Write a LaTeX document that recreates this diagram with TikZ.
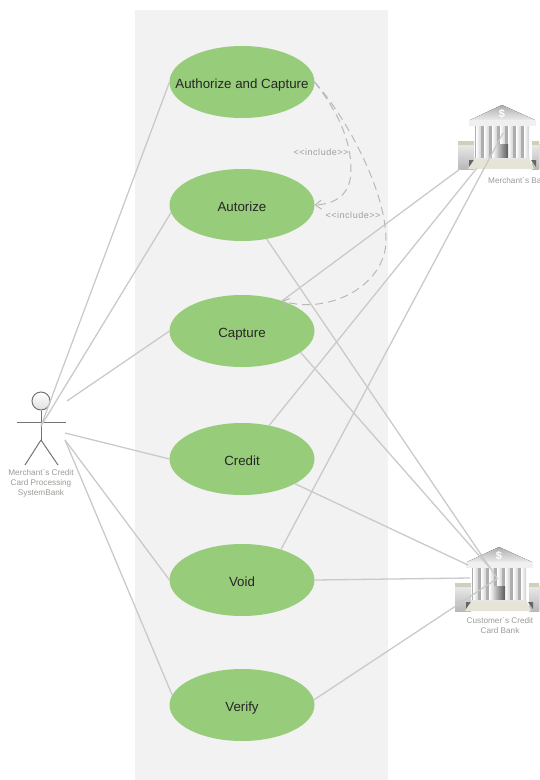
\documentclass[tikz,border=0pt]{standalone}
\usepackage{fontspec}
\setmainfont{Liberation Sans}
\newfontface\includefont[LetterSpace=6]{Liberation Sans}
\usepackage{tikz}
\usetikzlibrary{arrows.meta,shapes.geometric,positioning}
\definecolor{usecasegreen}{HTML}{97CC7A}
\definecolor{panelgray}{HTML}{F2F2F2}
\definecolor{linkgray}{HTML}{CACACA}
\definecolor{labelgray}{HTML}{9A9A96}
\definecolor{bankcream}{HTML}{E6E4D6}
\definecolor{bankcap}{HTML}{D2CEBC}
\tikzset{
    usecase/.style={ellipse,fill=usecasegreen,minimum width=145pt,minimum height=72pt,inner xsep=-25pt,inner ysep=0pt,outer sep=0pt,font=\fontsize{13.3}{15}\selectfont,text=black!85,text height=13pt,text depth=0pt},
    link/.style={draw=linkgray,line width=1.3pt},
    includelink/.style={draw=black!28,line width=1pt,dash pattern=on 8pt off 5pt,-{Straight Barb[length=6pt,width=9pt]}},
    includetext/.style={text=black!38,font=\includefont\fontsize{9}{10}\selectfont,inner sep=0pt},
    actortext/.style={text=labelgray,font=\fontsize{8.2}{10}\selectfont,align=center,inner sep=0pt},
    actorline/.style={draw=black!55,line width=1pt},
    bank/.pic={
        \fill[top color=black!8,bottom color=black!28] (-44,39) rectangle (-28,64);
        \fill[top color=black!8,bottom color=black!28] (30,39) rectangle (46,64);
        \fill[bankcap] (-44,36) rectangle (-28,40) (30,36) rectangle (46,40);
        \fill[black!60] (-33,55) -- (-28,55) -- (-33,62) -- cycle;
        \fill[black!60] (34,55) -- (29,55) -- (34,62) -- cycle;
        \fill[black!32] (-27,21) rectangle (27,53);
        \foreach \colx in {-26,-18,-10,-2,6,14,22} {
            \fill[left color=white,right color=black!18] (\colx,21) rectangle ++(5,32);
        }
        \fill[left color=black!20,right color=black!65] (-5,39) rectangle (6,53);
        \fill[black!10] (-28,53) rectangle (28,55);
        \fill[bankcream] (-28,55) -- (28,55) -- (32,64) -- (-34,64) -- cycle;
        \fill[bottom color=black!8,top color=black!32] (0,0) -- (33,15) -- (-32,15) -- cycle;
        \fill[black!6] (-33,15) rectangle (34,21);
        \node[text=white,font=\bfseries\fontsize{11}{11}\selectfont,inner sep=0pt] (dollar) at (0,9) {\$};
    }
}
\begin{document}
\begin{tikzpicture}[x=1pt,y=-1pt]
    \useasboundingbox (0,0) rectangle (539,780);
    \clip (0,0) rectangle (539,780);
    \fill[panelgray] (135,10) rectangle (388,780);

    \node[usecase] (authcapture) at (242,82) {Authorize and Capture};
    \node[usecase] (autorize) at (242,205) {Autorize};
    \node[usecase] (capture) at (242,331) {Capture};
    \node[usecase] (credit) at (242,459) {Credit};
    \node[usecase] (void) at (242,580) {Void};
    \node[usecase] (verify) at (242,705) {Verify};

    % actor
    \node[circle,draw=black!55,line width=1pt,top color=white,bottom color=black!12,minimum size=18pt,inner sep=0pt] (head) at (41,401) {};
    \coordinate (neck) at (41,440);
    \coordinate (armL) at (17,422);
    \coordinate (armR) at (66,422);
    \coordinate (footL) at (25,465);
    \coordinate (footR) at (58,465);
    \path[actorline] (head) edge (neck) (armL) edge (armR) (neck) edge (footL) (neck) edge (footR);
    \node[actortext] (merchantlabel) at (41,483) {Merchant\textasciigrave s Credit\\Card Processing\\SystemBank};
    \coordinate (hub) at (41,426);
    \coordinate (hubA) at (67,401);
    \coordinate (hubB) at (65,433);
    \coordinate (hubC) at (65,440);

    % banks
    \pic (merchantbank) at (502,105) {bank};
    \pic (customerbank) at (499,547) {bank};
    \node[actortext,anchor=west] (merchantbanklabel) at (488,181) {Merchant\textasciigrave s Bank};
    \node[actortext] (customerbanklabel) at (500,626) {Customer\textasciigrave s Credit\\Card Bank};
    \coordinate (mbA) at (460,169);
    \coordinate (mbB) at (477,168);
    \coordinate (mbC) at (503,133);
    \coordinate (cbA) at (497,578);
    \coordinate (cbB) at (490,568);
    \coordinate (cbC) at (468,565);
    \coordinate (cbD) at (470,578);
    \coordinate (cbE) at (498,578);

    \path[link]
    (hub) edge (authcapture.west)
          edge (autorize.186)
    (hubA) edge (capture.west)
    (hubB) edge (credit.west)
    (hubC) edge (void.west)
           edge (verify.172)
    (capture.37) edge (mbA)
    (credit.51) edge (mbB)
    (void.38) edge (mbC)
    (autorize.-54) edge (cbA)
    (capture.-20) edge (cbB)
    (credit.-25) edge (cbC)
    (void.east) edge (cbD)
    (verify.4) edge (cbE);

    \draw[includelink] (authcapture.east) .. controls (338,112) and (351,140) .. (351,170) .. controls (351,195) and (335,204) .. (autorize.east);
    \draw[includelink] (authcapture.east) .. controls (345,115) and (386,190) .. (386,240) .. controls (386,285) and (330,315) .. (capture.37);
    \node[includetext] (includeA) at (321,152) {<{}<include>{}>};
    \node[includetext] (includeB) at (353,215) {<{}<include>{}>};
\end{tikzpicture}
\end{document}
